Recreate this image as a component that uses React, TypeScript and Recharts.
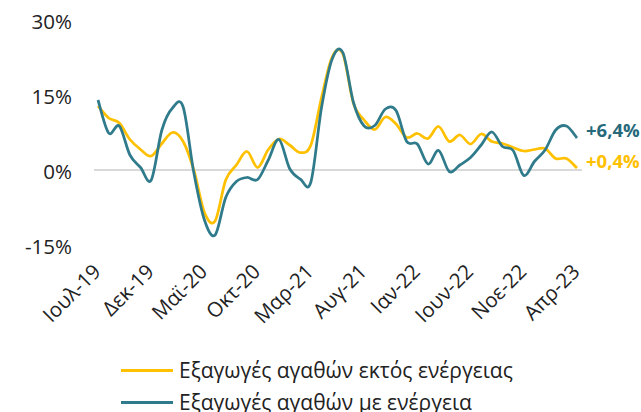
import React from 'react';
import { LineChart, Line, XAxis, YAxis, ReferenceLine, Legend } from 'recharts';

// monthly labels, Jul-19 .. Apr-23
const months = [
  'Ιουλ-19', 'Αυγ-19', 'Σεπ-19', 'Οκτ-19', 'Νοε-19', 'Δεκ-19',
  'Ιαν-20', 'Φεβ-20', 'Μαρ-20', 'Απρ-20', 'Μαϊ-20', 'Ιουν-20', 'Ιουλ-20', 'Αυγ-20', 'Σεπ-20', 'Οκτ-20', 'Νοε-20', 'Δεκ-20',
  'Ιαν-21', 'Φεβ-21', 'Μαρ-21', 'Απρ-21', 'Μαϊ-21', 'Ιουν-21', 'Ιουλ-21', 'Αυγ-21', 'Σεπ-21', 'Οκτ-21', 'Νοε-21', 'Δεκ-21',
  'Ιαν-22', 'Φεβ-22', 'Μαρ-22', 'Απρ-22', 'Μαϊ-22', 'Ιουν-22', 'Ιουλ-22', 'Αυγ-22', 'Σεπ-22', 'Οκτ-22', 'Νοε-22', 'Δεκ-22',
  'Ιαν-23', 'Φεβ-23', 'Μαρ-23', 'Απρ-23',
];

// exports excluding energy, y/y %
const nonEnergy = [
  12.8, 10.4, 9.4, 6.1, 4.1, 2.8, 5.3, 7.5, 5.7, 0.0, -8.5, -10.2,
  -2.0, 1.0, 3.7, 0.5, 4.1, 6.2, 5.0, 3.5, 5.0, 14.5, 22.6, 23.2,
  13.3, 10.0, 8.1, 10.6, 9.2, 6.5, 7.3, 6.3, 8.7, 5.7, 7.0, 5.2,
  7.2, 5.7, 5.3, 4.5, 3.8, 4.1, 4.3, 2.3, 2.3, 0.4,
];

// exports including energy, y/y %
const withEnergy = [
  14.0, 7.4, 8.8, 3.0, 0.5, -2.0, 8.0, 12.4, 12.6, -0.5, -10.0, -13.0,
  -5.5, -2.3, -1.5, -1.9, 2.0, 6.1, 0.3, -1.8, -2.4, 12.5, 22.2, 23.5,
  13.5, 8.8, 8.9, 12.2, 11.9, 5.7, 5.2, 1.2, 3.9, -0.3, 1.0, 2.5,
  5.0, 7.6, 4.7, 3.9, -1.1, 1.7, 4.0, 8.0, 8.8, 6.4,
];

const yTicks = [-15, 0, 15, 30];

const seriesNames = ['Εξαγωγές αγαθών εκτός ενέργειας', 'Εξαγωγές αγαθών με ενέργεια'];
const endLabels = ['+0,4%', '+6,4%'];

const YELLOW = '#FFC000';
const TEAL = '#2F7B8B';
const TEAL_DARK = '#25697A';
const FONT = '"Open Sans", sans-serif';

const data = months.map((m, i) => ({ month: m, nonEnergy: nonEnergy[i], withEnergy: withEnergy[i] }));

// excel-like smoothed line (catmull-rom through the points)
const excelSmooth = (context: any) => {
  let pts: number[][] = [];
  return {
    areaStart() {},
    areaEnd() {},
    lineStart() { pts = []; },
    point(x: number, y: number) { pts.push([+x, +y]); },
    lineEnd() {
      const n = pts.length;
      if (!n) return;
      context.moveTo(pts[0][0], pts[0][1]);
      for (let i = 0; i < n - 1; i++) {
        const p0 = pts[Math.max(i - 1, 0)];
        const p1 = pts[i];
        const p2 = pts[i + 1];
        const p3 = pts[Math.min(i + 2, n - 1)];
        context.bezierCurveTo(
          p1[0] + (p2[0] - p0[0]) / 6, p1[1] + (p2[1] - p0[1]) / 6,
          p2[0] - (p3[0] - p1[0]) / 6, p2[1] - (p3[1] - p1[1]) / 6,
          p2[0], p2[1]
        );
      }
    },
  };
};

const XTick = ({ x, y, payload }: any) => (
  <g transform={`translate(${x + 4},${y + 28})`}>
    <text transform="rotate(-45)" textAnchor="end" fontSize={20.5} fontFamily={FONT} fill="#222">
      {payload.value}
    </text>
  </g>
);

const YTick = ({ x, y, payload }: any) => (
  <text x={x} y={y + 9} textAnchor="end" fontSize={20.5} fontFamily={FONT} fill="#222">
    {payload.value}%
  </text>
);

const endLabel = (text: string, color: string, dy: number) => (props: any) => {
  const { x, y, index } = props;
  if (index !== months.length - 1) return null;
  return (
    <text x={x + 9} y={y + dy} fontSize={18.5} fontWeight={700} fontFamily={FONT} fill={color}>
      {text}
    </text>
  );
};

const renderLegend = () => (
  <div style={{ fontFamily: FONT, fontSize: 21, color: '#222', lineHeight: '32px' }}>
    {[YELLOW, TEAL].map((c, i) => (
      <div key={i} style={{ display: 'flex', alignItems: 'center', height: 32, paddingLeft: 121 }}>
        <span style={{ display: 'inline-block', width: 52, height: 3, background: c, marginRight: 6 }} />
        <span>{seriesNames[i]}</span>
      </div>
    ))}
  </div>
);

export default function App() {
  return (
    <div style={{ position: 'absolute', left: 0, top: 0, width: 641, height: 412, background: '#fff', overflow: 'hidden' }}>
      <LineChart width={641} height={412} data={data} margin={{ top: 20, right: 59, left: 0, bottom: 137 }}>
        <XAxis
          dataKey="month"
          interval={4}
          axisLine={false}
          tickLine={false}
          tickSize={0}
          tickMargin={0}
          height={30}
          padding={{ left: 4, right: 5 }}
          tick={<XTick />}
        />
        <YAxis
          domain={[-15, 30]}
          ticks={yTicks}
          axisLine={false}
          tickLine={false}
          tickSize={0}
          tickMargin={22}
          width={94}
          tick={<YTick />}
        />
        <ReferenceLine y={0} stroke="#D9D9D9" strokeWidth={2} />
        <Legend
          layout="vertical"
          align="center"
          verticalAlign="middle"
          content={renderLegend}
          wrapperStyle={{ position: 'absolute', left: 0, top: 354, width: 641 }}
        />
        <Line
          dataKey="nonEnergy"
          name={seriesNames[0]}
          type={excelSmooth as any}
          stroke={YELLOW}
          strokeWidth={2.75}
          dot={false}
          isAnimationActive={false}
          label={endLabel(endLabels[0], YELLOW, 0)}
        />
        <Line
          dataKey="withEnergy"
          name={seriesNames[1]}
          type={excelSmooth as any}
          stroke={TEAL}
          strokeWidth={2.75}
          dot={false}
          isAnimationActive={false}
          label={endLabel(endLabels[1], TEAL_DARK, -1)}
        />
      </LineChart>
    </div>
  );
}
